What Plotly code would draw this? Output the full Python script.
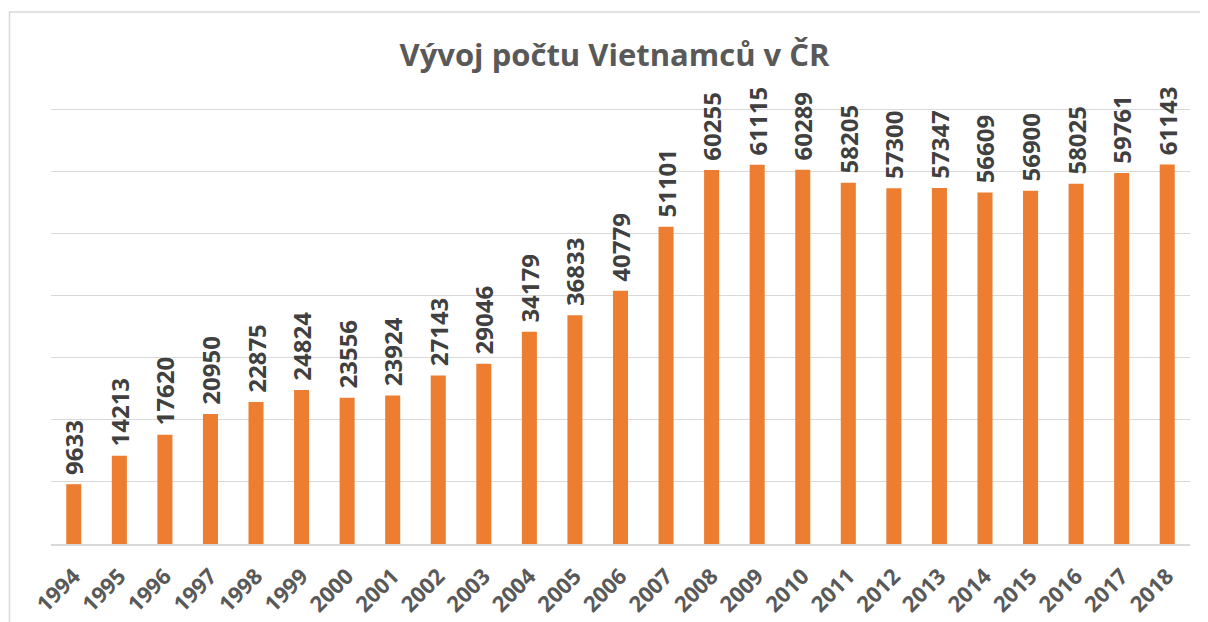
import plotly.graph_objects as go

years = [str(y) for y in range(1994, 2019)]
counts = [9633, 14213, 17620, 20950, 22875, 24824, 23556, 23924, 27143, 29046,
          34179, 36833, 40779, 51101, 60255, 61115, 60289, 58205, 57300, 57347,
          56609, 56900, 58025, 59761, 61143]
title_text = "Vývoj počtu Vietnamců v ČR"

FONT = "Open Sans"
OFF = 8  # page body margin
YMAX = 70400
W, H = 1208 - OFF, 622 - OFF
B = 78
ph = 435 * YMAX / 70000
T = (622 - B - ph) - OFF
L, R = 51 - OFF, 18
pw = W - L - R

labels = ["\u00a0" + str(v) for v in counts]

fig = go.Figure(go.Bar(
    x=years, y=counts,
    marker=dict(color="#ED7D31", line=dict(width=0)),
    text=labels, textposition="outside", textangle=-90,
    constraintext="none", cliponaxis=False,
    textfont=dict(family=FONT, size=24, color="#404040", weight="bold"),
))

def px(x):
    return (x - OFF - L) / pw

def py(y):
    return (H - B - (y - OFF)) / ph

fig.update_layout(
    width=W, height=H,
    margin=dict(l=L, r=R, t=T, b=B, autoexpand=False),
    paper_bgcolor="white", plot_bgcolor="white",
    bargap=0.67,
    showlegend=False,
    title=dict(text=title_text, x=px(614.5), xref="paper", xanchor="center",
               y=1 - (55 - OFF) / H, yref="container", yanchor="middle",
               font=dict(family=FONT, size=31, color="#595959", weight="bold")),
    xaxis=dict(type="category", tickangle=-45, showgrid=False, ticks="",
               ticklabelstandoff=9,
               tickfont=dict(family=FONT, size=22, color="#595959", weight="bold"),
               showline=True, linecolor="#D9D9D9", linewidth=1.5),
    yaxis=dict(range=[0, YMAX], tick0=0, dtick=10000, showticklabels=False,
               gridcolor="#D9D9D9", gridwidth=1.2, zeroline=False, ticks=""),
    shapes=[dict(type="rect", xref="paper", yref="paper",
                 x0=px(9.5), x1=px(1215), y0=py(11.5), y1=py(630),
                 line=dict(color="#D9D9D9", width=1.5), fillcolor="rgba(0,0,0,0)",
                 layer="below")],
)

fig.write_html("out.html")
